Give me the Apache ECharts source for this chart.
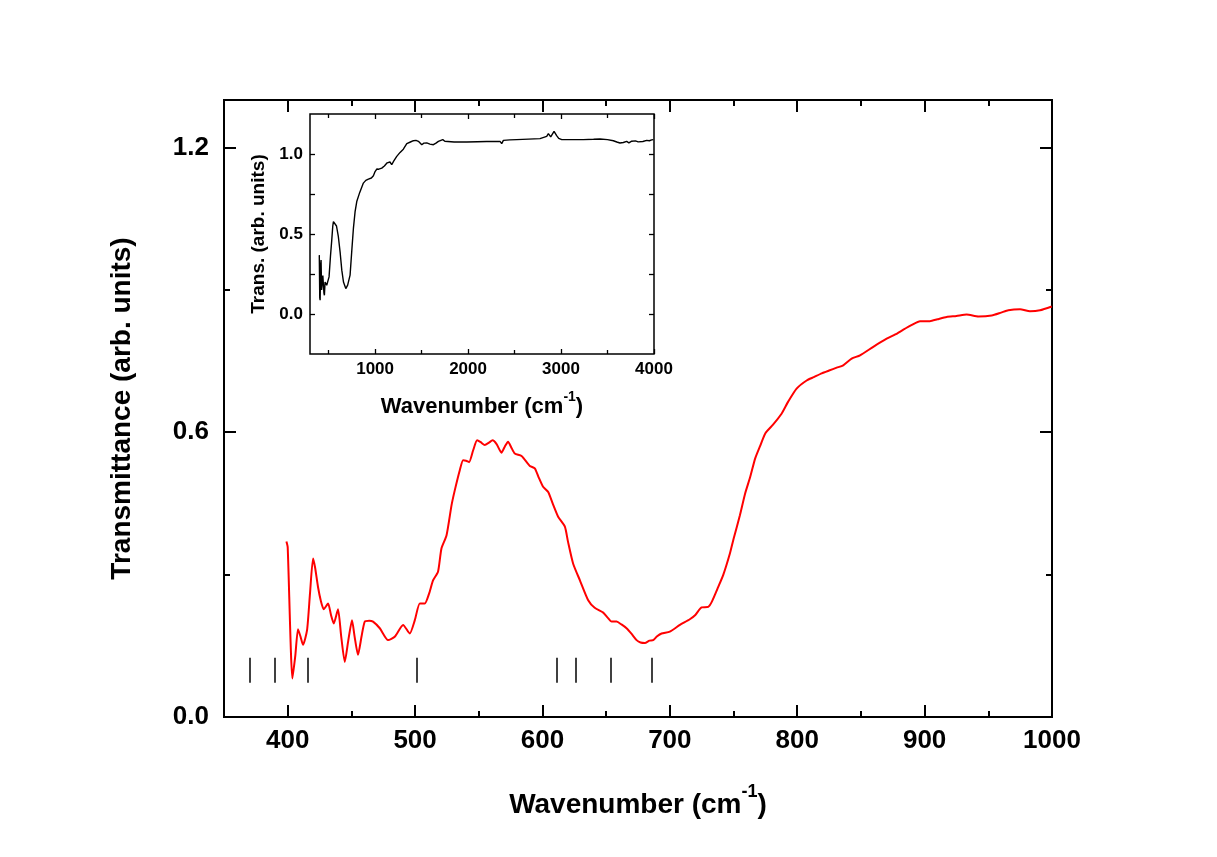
<!DOCTYPE html>
<html>
<head>
<meta charset="utf-8">
<script src="https://cdn.jsdelivr.net/npm/echarts@6/dist/echarts.min.js"></script>
<style>
  html, body { margin: 0; padding: 0; background: #fff; }
  #chart { width: 1217px; height: 857px; }
</style>
</head>
<body>
<div id="chart"></div>
<script>
// main spectrum (far-IR part)
const mainWavenumber = [
  399, 400, 403.7, 406, 408.1, 410, 412, 415.2, 417.5, 419.9, 421.5, 423.8, 426, 428.3, 431.7, 434, 436.2,
  439.5, 442, 444.8, 447.5, 450.5, 452.5, 455.2, 458, 460.5, 464, 467, 472.3, 478.8, 484, 490.6, 495.8,
  499.8, 503.7, 507.6, 511, 514.1, 518, 520.7, 524.7, 528.6, 531.2, 535.1, 537.7, 540, 542.4, 545.6, 548.7,
  551.5, 554.7, 558, 560.8, 564, 567.8, 570.5, 573, 575.5, 578.3, 583.6, 590.1, 594, 597, 600.5, 604.5,
  608, 612.3, 617.6, 620, 624.1, 629.4, 635.9, 641, 647.7, 651, 654.3, 658.2, 662, 666, 670, 673.9, 677,
  680.4, 684, 686.9, 690, 693.5, 700, 707.9, 715.7, 720, 724.9, 730.1, 733, 738, 742, 747.2, 750, 755,
  759, 763, 767, 771, 775, 781, 787.7, 793, 799.5, 807.4, 813, 819.2, 825, 831, 836.1, 842.7, 849.3,
  859.7, 870.2, 877, 883.3, 890, 896.4, 904.2, 910, 917.3, 925, 933, 942.2, 952.7, 960, 965.7, 974.9,
  982.7, 990.6, 999.8
]
const mainTransmittance = [
  0.370, 0.358, 0.081, 0.130, 0.185, 0.170, 0.152, 0.183, 0.260, 0.334, 0.315, 0.274, 0.245, 0.227, 0.239, 0.215, 0.197,
  0.227, 0.170, 0.116, 0.160, 0.204, 0.170, 0.131, 0.170, 0.201, 0.203, 0.201, 0.187, 0.162, 0.169, 0.194, 0.176,
  0.204, 0.239, 0.239, 0.260, 0.288, 0.306, 0.355, 0.383, 0.446, 0.478, 0.520, 0.541, 0.540, 0.537, 0.562, 0.583,
  0.579, 0.573, 0.578, 0.583, 0.575, 0.557, 0.570, 0.580, 0.568, 0.555, 0.550, 0.529, 0.524, 0.505, 0.485, 0.474,
  0.450, 0.422, 0.401, 0.370, 0.323, 0.288, 0.246, 0.230, 0.220, 0.210, 0.201, 0.201, 0.195, 0.187, 0.175, 0.162, 0.157,
  0.156, 0.161, 0.162, 0.170, 0.176, 0.180, 0.194, 0.206, 0.215, 0.231, 0.232, 0.243, 0.274, 0.300, 0.345, 0.375, 0.425,
  0.470, 0.505, 0.545, 0.572, 0.598, 0.616, 0.639, 0.665, 0.692, 0.709, 0.716, 0.724, 0.730, 0.736, 0.741, 0.755, 0.762,
  0.780, 0.797, 0.806, 0.816, 0.826, 0.834, 0.834, 0.838, 0.843, 0.845, 0.848, 0.844, 0.846, 0.852, 0.857, 0.859,
  0.855, 0.857, 0.865
]

// inset: full range spectrum
const insetWavenumber = [
  400, 405, 409, 414, 419, 425, 433, 438, 444, 450, 455, 462, 473, 480, 487, 495, 505, 520, 534, 545, 552, 562,
  570, 585, 605, 625, 642, 660, 685, 705, 731, 750, 767, 785, 803, 835, 874, 900, 928, 960, 982, 1000, 1018,
  1040, 1072, 1100, 1130, 1143, 1160, 1179, 1200, 1233, 1269, 1304, 1341, 1380, 1412, 1440, 1466, 1485, 1502,
  1525, 1556, 1590, 1627, 1655, 1681, 1728, 1750, 1771, 1850, 1986, 2100, 2200, 2344, 2362, 2380, 2450, 2523,
  2650, 2774, 2846, 2864, 2889, 2925, 2953, 2975, 3008, 3100, 3240, 3350, 3419, 3500, 3563, 3600, 3634, 3650,
  3670, 3706, 3730, 3760, 3778, 3800, 3830, 3849, 3880, 3900, 3921, 3950, 3975, 3993
]
const insetTransmittance = [
  0.368, 0.100, 0.086, 0.300, 0.337, 0.150, 0.149, 0.240, 0.232, 0.130, 0.117, 0.200, 0.201, 0.180, 0.169, 0.190, 0.232, 0.360, 0.462, 0.550, 0.577, 0.583,
  0.577, 0.550, 0.483, 0.380, 0.274, 0.200, 0.159, 0.180, 0.243, 0.400, 0.536, 0.640, 0.703, 0.760, 0.818, 0.835, 0.843, 0.850, 0.864, 0.890, 0.906,
  0.905, 0.912, 0.925, 0.945, 0.954, 0.950, 0.933, 0.955, 0.985, 1.010, 1.030, 1.065, 1.075, 1.083, 1.085, 1.079, 1.070, 1.058,
  1.068, 1.069, 1.062, 1.058, 1.068, 1.079, 1.090, 1.080, 1.075, 1.075, 1.075, 1.077, 1.078, 1.079, 1.065, 1.085, 1.088, 1.090,
  1.093, 1.096, 1.110, 1.127, 1.107, 1.142, 1.115, 1.098, 1.090, 1.090, 1.090, 1.092, 1.094, 1.090, 1.083, 1.075, 1.069, 1.080,
  1.072, 1.079, 1.070, 1.080, 1.073, 1.082, 1.076, 1.085, 1.078, 1.088, 1.085, 1.083, 1.088, 1.090
]

// short black bars marking the band positions
const bandPositions = [370, 390, 416, 501, 611, 626, 654, 686]
const bandBarLow = 0.072
const bandBarHigh = 0.125

// ticks
const mainXMajor = [400, 500, 600, 700, 800, 900, 1000]
const mainXMinor = [450, 550, 650, 750, 850, 950]
const mainYMajor = [0, 0.6, 1.2]
const mainYMinor = [0.3, 0.9]
const insetXMajor = [1000, 2000, 3000, 4000]
const insetXMinor = [500, 1500, 2500, 3500]
const insetYMajor = [0, 0.5, 1.0]
const insetYMinor = [0.25, 0.75]

const FONT = 'Liberation Sans, Arial, sans-serif'

// one axis that only draws a set of ticks (and optionally labels)
function tickAxis (grid, position, min, max, ticks, len, labels) {
  return {
    type: 'value',
    gridIndex: grid,
    position: position,
    min: min,
    max: max,
    axisLine: { show: false, onZero: false },
    splitLine: { show: false },
    axisTick: {
      show: true,
      inside: true,
      length: len,
      customValues: ticks,
      lineStyle: { color: '#000', width: grid === 0 ? 2 : 1.3 }
    },
    axisLabel: labels ? Object.assign({ show: true, customValues: ticks, color: '#000', fontFamily: FONT, fontWeight: 'bold' }, labels)
                      : { show: false }
  }
}

const chart = echarts.init(document.getElementById('chart'))

const xMain = tickAxis(0, 'bottom', 350, 1000, mainXMajor, 12, { fontSize: 26, margin: 11, formatter: v => String(v) })
xMain.name = '{t|Wavenumber (cm}{s|-1}{t|)}'
xMain.nameLocation = 'middle'
xMain.nameGap = 66
xMain.nameTextStyle = {
  rich: {
    t: { fontFamily: FONT, fontWeight: 'bold', fontSize: 28, color: '#000', lineHeight: 36, verticalAlign: 'bottom' },
    s: { fontFamily: FONT, fontWeight: 'bold', fontSize: 18, color: '#000', lineHeight: 36, verticalAlign: 'top' }
  }
}

const yMain = tickAxis(0, 'left', 0, 1.3, mainYMajor, 12, { fontSize: 26, margin: 15, formatter: v => v.toFixed(1) })
yMain.name = 'Transmittance (arb. units)'
yMain.nameLocation = 'middle'
yMain.nameGap = 88
yMain.nameTextStyle = { fontFamily: FONT, fontWeight: 'bold', fontSize: 28, color: '#000' }

const xInset = tickAxis(1, 'bottom', 300, 4000, insetXMajor, 5, { fontSize: 17, margin: 7, formatter: v => String(v) })
xInset.name = '{t|Wavenumber (cm}{s|-1}{t|)}'
xInset.nameLocation = 'middle'
xInset.nameGap = 36
xInset.nameTextStyle = {
  rich: {
    t: { fontFamily: FONT, fontWeight: 'bold', fontSize: 22, color: '#000', lineHeight: 28, verticalAlign: 'bottom' },
    s: { fontFamily: FONT, fontWeight: 'bold', fontSize: 14, color: '#000', lineHeight: 28, verticalAlign: 'top' }
  }
}

const yInset = tickAxis(1, 'left', -0.25, 1.25, insetYMajor, 5, { fontSize: 17, margin: 7, formatter: v => v.toFixed(1) })
yInset.name = 'Trans. (arb. units)'
yInset.nameLocation = 'middle'
yInset.nameGap = 42
yInset.nameTextStyle = { fontFamily: FONT, fontWeight: 'bold', fontSize: 19, color: '#000' }

const option = {
  backgroundColor: '#fff',
  animation: false,
  grid: [
    { left: 224, top: 100, width: 828, height: 617, show: true, borderColor: '#000', borderWidth: 2, backgroundColor: 'transparent' },
    { left: 310, top: 114, width: 344, height: 240, show: true, borderColor: '#000', borderWidth: 1.5, backgroundColor: '#fff' }
  ],
  xAxis: [
    xMain,
    tickAxis(0, 'bottom', 350, 1000, mainXMinor, 6),
    tickAxis(0, 'top', 350, 1000, mainXMajor, 12),
    tickAxis(0, 'top', 350, 1000, mainXMinor, 6),
    xInset,
    tickAxis(1, 'bottom', 300, 4000, insetXMinor, 4),
    tickAxis(1, 'top', 300, 4000, insetXMajor, 5),
    tickAxis(1, 'top', 300, 4000, insetXMinor, 4)
  ],
  yAxis: [
    yMain,
    tickAxis(0, 'left', 0, 1.3, mainYMinor, 6),
    tickAxis(0, 'right', 0, 1.3, mainYMajor, 12),
    tickAxis(0, 'right', 0, 1.3, mainYMinor, 6),
    yInset,
    tickAxis(1, 'left', -0.25, 1.25, insetYMinor, 5),
    tickAxis(1, 'right', -0.25, 1.25, insetYMajor, 5),
    tickAxis(1, 'right', -0.25, 1.25, insetYMinor, 5)
  ],
  series: [
    {
      type: 'line',
      xAxisIndex: 0,
      yAxisIndex: 0,
      data: mainWavenumber.map((w, i) => [w, mainTransmittance[i]]),
      showSymbol: false,
      smooth: 0.2,
      lineStyle: { color: '#ff0000', width: 2 },
      markLine: {
        silent: true,
        symbol: 'none',
        label: { show: false },
        lineStyle: { color: '#000', width: 1.5, type: 'solid' },
        data: bandPositions.map(w => [{ coord: [w, bandBarLow] }, { coord: [w, bandBarHigh] }])
      }
    },
    {
      type: 'line',
      xAxisIndex: 4,
      yAxisIndex: 4,
      data: insetWavenumber.map((w, i) => [w, insetTransmittance[i]]),
      showSymbol: false,
      lineStyle: { color: '#000', width: 1.4 }
    }
  ]
}

chart.setOption(option)
</script>
</body>
</html>
